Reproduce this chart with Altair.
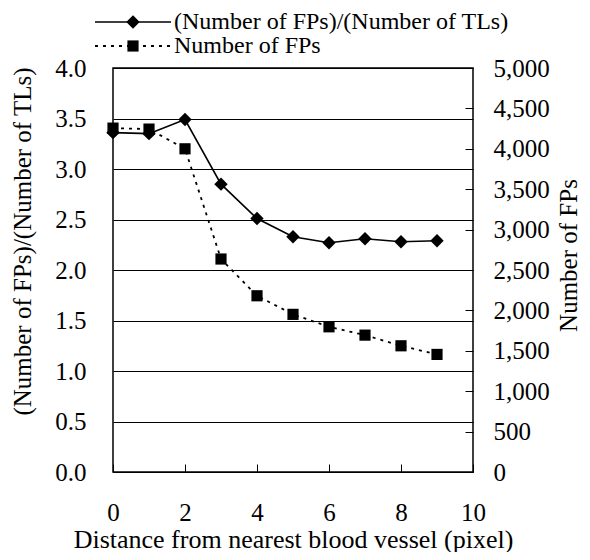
import altair as alt
import pandas as pd

# ---- data ----
distance = [0, 1, 2, 3, 4, 5, 6, 7, 8, 9]
ratio_fp_tl = [3.36, 3.35, 3.49, 2.85, 2.51, 2.33, 2.27, 2.31, 2.28, 2.29]
num_fps = [4256, 4244, 4000, 2636, 2181, 1951, 1797, 1694, 1562, 1455]

left_ticks = [0.0, 0.5, 1.0, 1.5, 2.0, 2.5, 3.0, 3.5, 4.0]
right_ticks = [0, 500, 1000, 1500, 2000, 2500, 3000, 3500, 4000, 4500, 5000]
x_ticks = [0, 2, 4, 6, 8, 10]

label_ratio = "(Number of FPs)/(Number of TLs)"
label_fps = "Number of FPs"
x_title = "Distance from nearest blood vessel (pixel)"

df = pd.DataFrame({"d": distance, "ratio": ratio_fp_tl, "fps": num_fps})

FONT = "Liberation Serif"
FS = 25
W, H = 360, 404

xenc = alt.X(
    "d:Q",
    scale=alt.Scale(domain=[0, 10], nice=False),
    axis=alt.Axis(
        values=x_ticks,
        title=x_title,
        grid=False,
        domain=False,
        offset=-8,
        tickSize=8,
        tickColor="black",
        tickWidth=1,
        labelPadding=28,
        labelFlush=False,
        titleFontSize=26,
        titleBaseline="alphabetic",
        titleY=83,
    ),
)

y_left = alt.Y(
    "ratio:Q",
    scale=alt.Scale(domain=[0, 4], nice=False),
    axis=alt.Axis(
        values=left_ticks,
        format=".1f",
        title=label_ratio,
        grid=True,
        gridColor="black",
        gridWidth=1,
        domain=False,
        ticks=False,
        tickSize=0,
        labelPadding=27,
        labelFlush=False,
        titleAngle=270,
        titleAlign="center",
        titleBaseline="alphabetic",
        titleX=-83,
        titleY=173,
    ),
)

y_right = alt.Y(
    "fps:Q",
    scale=alt.Scale(domain=[0, 5000], nice=False),
    axis=alt.Axis(
        orient="right",
        values=right_ticks,
        format=",d",
        title=label_fps,
        grid=False,
        domain=False,
        offset=-8,
        tickSize=8,
        tickColor="black",
        tickWidth=1,
        labelPadding=20,
        labelFlush=False,
        titleAngle=270,
        titleAlign="center",
        titleBaseline="alphabetic",
        titleX=111,
        titleY=187,
    ),
)

base = alt.Chart(df)

ratio_line = base.mark_line(color="black", strokeWidth=1.6).encode(x=xenc, y=y_left)
ratio_pts = base.mark_point(shape="diamond", size=180, filled=True, color="black", opacity=1).encode(x="d:Q", y="ratio:Q")
left_layer = alt.layer(ratio_line, ratio_pts)

fps_line = base.mark_line(color="black", strokeWidth=1.8, strokeDash=[3, 5]).encode(x="d:Q", y=y_right)
fps_pts = base.mark_point(shape="square", size=125, filled=True, color="black", opacity=1).encode(x="d:Q", y="fps:Q")
right_layer = alt.layer(fps_line, fps_pts)

# ---- legend (drawn above the plot) ----
LFS = 24
leg1 = pd.DataFrame({"label": [label_ratio]})
leg2 = pd.DataFrame({"label": [label_fps]})
r1y, r2y = -46, -22
l1 = alt.Chart(leg1).mark_rule(color="black", strokeWidth=1.6).encode(x=alt.value(-18), x2=alt.value(58), y=alt.value(r1y))
p1 = alt.Chart(leg1).mark_point(shape="diamond", size=180, filled=True, color="black", opacity=1).encode(x=alt.value(20), y=alt.value(r1y))
t1 = alt.Chart(leg1).mark_text(align="left", baseline="middle", font=FONT, fontSize=LFS, color="black").encode(x=alt.value(61), y=alt.value(r1y), text="label:N")
l2 = alt.Chart(leg2).mark_rule(color="black", strokeWidth=1.8, strokeDash=[3, 5]).encode(x=alt.value(-18), x2=alt.value(58), y=alt.value(r2y))
p2 = alt.Chart(leg2).mark_point(shape="square", size=125, filled=True, color="black", opacity=1).encode(x=alt.value(20), y=alt.value(r2y))
t2 = alt.Chart(leg2).mark_text(align="left", baseline="middle", font=FONT, fontSize=LFS, color="black").encode(x=alt.value(61), y=alt.value(r2y), text="label:N")
legend = alt.layer(l1, p1, t1, l2, p2, t2)

chart = (
    alt.layer(left_layer, right_layer, legend)
    .resolve_scale(y="independent")
    .properties(
        width=W,
        height=H,
        background="white",
        autosize=alt.AutoSizeParams(type="none"),
        padding={"left": 105, "top": 60, "right": 109, "bottom": 80},
    )
    .configure_view(stroke="black", strokeWidth=1.5)
    .configure_axis(
        labelFont=FONT,
        labelFontSize=FS,
        labelColor="black",
        titleFont=FONT,
        titleFontSize=FS,
        titleFontWeight="normal",
        titleColor="black",
    )
)

chart.save("out.html", embed_options={"renderer": "svg", "actions": False})
